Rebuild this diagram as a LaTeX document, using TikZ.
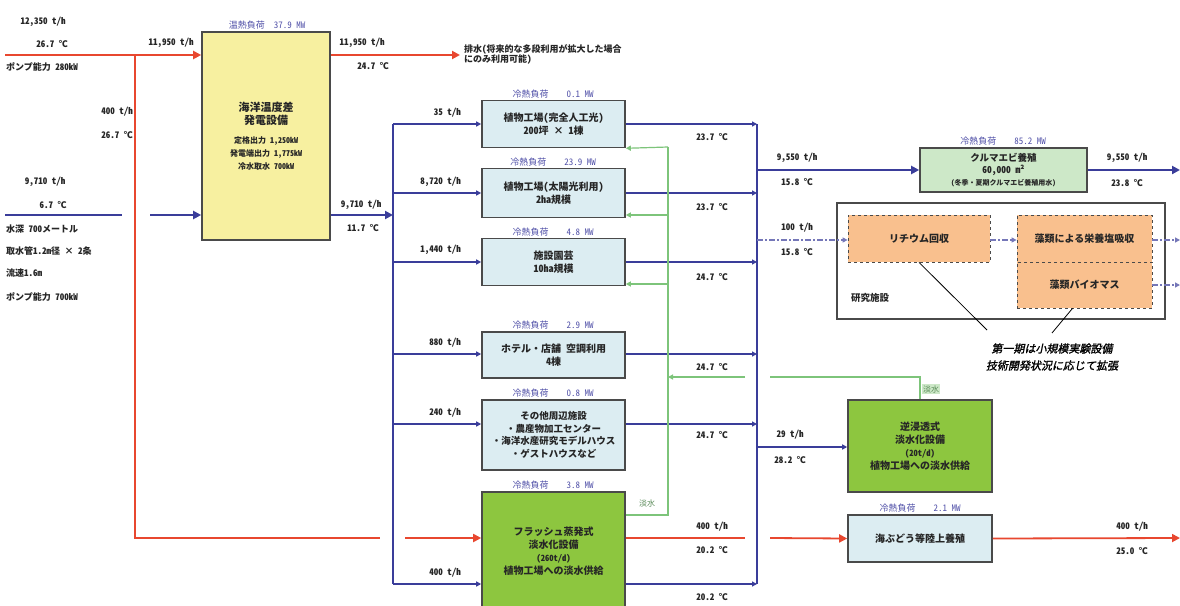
\documentclass[tikz,border=0pt]{standalone}
\usepackage{fontspec}
\setmainfont{Noto Sans CJK JP}[RawFeature=+hwid]
\newfontfamily\cjkit{Noto Sans CJK JP}[RawFeature=+hwid, FakeSlant=0.2, FakeBold=1.5]
\usetikzlibrary{arrows.meta}
\definecolor{myred}{HTML}{E8472F}
\definecolor{myblue}{HTML}{3A3D9A}
\definecolor{mygreen}{HTML}{7DC47A}
\definecolor{loadc}{HTML}{5050A8}
\definecolor{yelf}{HTML}{F7F0A0}
\definecolor{bluef}{HTML}{DCEDF2}
\definecolor{grnf}{HTML}{8DC63F}
\definecolor{lgrnf}{HTML}{CDE8C8}
\definecolor{orgf}{HTML}{F9C08E}
\definecolor{bordc}{HTML}{4A4A4A}
\tikzset{
  lbl/.style={font=\bfseries\fontsize{9}{10}\selectfont, inner sep=1pt, text=black!85},
  load/.style={font=\fontsize{9}{10}\selectfont, text=loadc, inner sep=1pt},
  boxb/.style={draw=bordc, line width=1.6pt, fill=bluef, align=center, font=\bfseries\fontsize{10}{13}\selectfont, inner sep=2pt, text=black!85},
  redthick/.style={draw=myred, line width=2.6pt},
  redthin/.style={draw=myred, line width=1.8pt},
  bluethick/.style={draw=myblue, line width=2.8pt},
  bluethin/.style={draw=myblue, line width=1.8pt},
  greenl/.style={draw=mygreen, line width=1.2pt},
  arr/.style={-{Triangle[length=8pt,width=8pt]}},
  sarr/.style={-{Triangle[length=5pt,width=5pt]}},
}
\begin{document}
\begin{tikzpicture}[x=1pt,y=-1pt]
\useasboundingbox (0,0) rectangle (1180,605);
\fill[white] (0,0) rectangle (1180,605);

% ---------- boxes ----------
\node[boxb, fill=yelf, minimum width=128, minimum height=208] (otec) at (266,136)
  {\fontsize{11}{14}\selectfont 海洋温度差\\\fontsize{11}{14}\selectfont 発電設備\\[6pt]{\fontsize{8}{10}\selectfont 定格出力 1,250kW}\\{\fontsize{8}{10}\selectfont 発電端出力 1,775kW}\\{\fontsize{8}{10}\selectfont 冷水取水 700kW}};
\node[boxb, minimum width=143, minimum height=47] (b1) at (553.5,124) {植物工場（完全人工光）\\200坪 × 1棟};
\node[boxb, minimum width=143, minimum height=49] (b2) at (553.5,193) {植物工場（太陽光利用）\\2ha規模};
\node[boxb, minimum width=143, minimum height=47] (b3) at (553.5,262) {施設園芸\\10ha規模};
\node[boxb, minimum width=143, minimum height=46] (b4) at (553.5,355) {ホテル・店舗 空調利用\\4棟};
\node[boxb, minimum width=143, minimum height=70, font=\bfseries\fontsize{9.5}{12.5}\selectfont] (b5) at (553.5,435) {その他周辺施設\\・農産物加工センター\\・海洋水産研究モデルハウス\\・ゲストハウスなど};
\node[boxb, fill=grnf, minimum width=143, minimum height=118] (b6) at (553.5,551) {フラッシュ蒸発式\\淡水化設備\\{\fontsize{8.5}{11}\selectfont (260t/d)}\\植物工場への淡水供給};
\node[boxb, fill=lgrnf, minimum width=167, minimum height=44, font=\bfseries\fontsize{9.5}{12}\selectfont] (kuruma) at (1003.5,170) {クルマエビ養殖\\60,000 m²\\{\fontsize{7}{9}\selectfont （冬季・夏期クルマエビ養殖用水）}};
\node[draw=bordc, line width=1.6pt, fill=white, minimum width=328, minimum height=116] (lab) at (1001,261) {};
\node[draw=bordc, dashed, line width=0.8pt, fill=orgf, minimum width=142, minimum height=47, font=\bfseries\fontsize{10}{12}\selectfont, text=black!85] (lith) at (919,238.5) {リチウム回収};
\node[draw=bordc, dashed, line width=0.8pt, fill=orgf, minimum width=135, minimum height=47, font=\bfseries\fontsize{10}{12}\selectfont, text=black!85] (alg1) at (1084.5,238.5) {藻類による栄養塩吸収};
\node[draw=bordc, dashed, line width=0.8pt, fill=orgf, minimum width=135, minimum height=46, font=\bfseries\fontsize{10}{12}\selectfont, text=black!85] (alg2) at (1084.5,285) {藻類バイオマス};
\node[lbl, font=\bfseries\fontsize{9.5}{11}\selectfont] (labt) at (870,298) {研究施設};
\node[boxb, fill=grnf, minimum width=144, minimum height=92] (ro) at (920,446) {逆浸透式\\淡水化設備\\{\fontsize{8.5}{11}\selectfont (20t/d)}\\植物工場への淡水供給};
\node[boxb, minimum width=144, minimum height=47] (umi) at (920,538.5) {海ぶどう等陸上養殖};

% ---------- coordinates ----------
\coordinate (redin) at (5,55);
\coordinate (redtap) at (135,55);
\coordinate (redcorner) at (135,538);
\coordinate (redgapA) at (380,538);
\coordinate (redgapB) at (405,538);
\coordinate (redout) at (460,55);
\coordinate (blueinA) at (5,215);
\coordinate (blueinB) at (122,215);
\coordinate (blueinC) at (150,215);
\coordinate (LJ) at (393,215);
\coordinate (LT) at (393,124);
\coordinate (LB) at (393,584);
\coordinate (L2) at (393,193);
\coordinate (L3) at (393,262);
\coordinate (L4) at (393,354);
\coordinate (L5) at (393,424);
\coordinate (RT) at (757,124);
\coordinate (RB) at (757,584);
\coordinate (R2) at (757,193);
\coordinate (R3) at (757,262);
\coordinate (R4) at (757,354);
\coordinate (R5) at (757,424);
\coordinate (RK) at (757,170);
\coordinate (RL) at (757,240);
\coordinate (RR) at (757,447);
\coordinate (kout) at (1180,170);
\coordinate (a1out) at (1180,240);
\coordinate (a2out) at (1180,285);
\coordinate (fgapA) at (745,538);
\coordinate (fgapB) at (770,538);
\coordinate (uout) at (1180,538);
\coordinate (G0) at (668,515);
\coordinate (GT) at (668,147);
\coordinate (G2) at (668,215);
\coordinate (G3) at (668,284);
\coordinate (G4) at (668,377);
\coordinate (GRa) at (920,377);
\coordinate (GRb) at (770,377);
\coordinate (GRc) at (745,377);

% ---------- red warm water ----------
\draw[redthick, arr] (redin) -- (otec.west |- redin);
\draw[redthick, arr] (otec.east |- redout) -- (redout);
\draw[redthin] (redtap) -- (redcorner) -- (redgapA);
\draw[redthin, arr] (redgapB) -- (b6.west |- redgapB);
\draw[redthin] (b6.east |- fgapA) -- (fgapA);
\draw[redthin, arr] (fgapB) -- (umi.west);
\draw[redthin, arr] (umi.east) -- (uout);

% ---------- blue cold water ----------
\draw[bluethick] (blueinA) -- (blueinB);
\draw[bluethick, arr] (blueinC) -- (otec.west |- blueinC);
\draw[bluethick, arr] (otec.east |- LJ) -- (LJ);
\draw[bluethick] (LT) -- (LB);
\draw[bluethin, sarr] (LT) -- (b1.west);
\draw[bluethin, sarr] (L2) -- (b2.west);
\draw[bluethin, sarr] (L3) -- (b3.west);
\draw[bluethin, sarr] (L4) -- (b4.west |- L4);
\draw[bluethin, sarr] (L5) -- (b5.west |- L5);
\draw[bluethin, sarr] (LB) -- (b6.west |- LB);
\draw[bluethin, sarr] (b1.east) -- (RT);
\draw[bluethin, sarr] (b2.east) -- (R2);
\draw[bluethin, sarr] (b3.east) -- (R3);
\draw[bluethin, sarr] (b4.east |- R4) -- (R4);
\draw[bluethin, sarr] (b5.east |- R5) -- (R5);
\draw[bluethin, sarr] (b6.east |- RB) -- (RB);
\draw[bluethick] (RT) -- (RB);
\draw[bluethick, arr] (RK) -- (kuruma.west);
\draw[bluethick, arr] (kuruma.east) -- (kout);
\draw[bluethin, sarr] (RR) -- (ro.west |- RR);
\draw[myblue!70, line width=1.4pt, dash pattern=on 6pt off 2pt on 2pt off 2pt, sarr] (RL) -- (lith.west |- RL);
\draw[myblue!70, line width=1.4pt, dash pattern=on 6pt off 2pt on 2pt off 2pt, sarr] (lith.east |- RL) -- (alg1.west |- RL);
\draw[myblue!70, line width=1.4pt, dash pattern=on 6pt off 2pt on 2pt off 2pt, sarr] (alg1.east |- a1out) -- (a1out);
\draw[myblue!70, line width=1.4pt, dash pattern=on 6pt off 2pt on 2pt off 2pt, sarr] (alg2.east |- a2out) -- (a2out);

% ---------- green fresh water ----------
\draw[greenl] (b6.east |- G0) -- (G0) -- (GT);
\draw[greenl, sarr] (GT) -- (b1.south east);
\draw[greenl, sarr] (G2) -- (b2.east |- G2);
\draw[greenl, sarr] (G3) -- (b3.east |- G3);
\draw[greenl] (ro.north -| GRa) -- (GRa) -- (GRb);
\draw[greenl, sarr] (GRc) -- (G4);
\node[lbl, text=mygreen!70!black, font=\fontsize{8}{9}\selectfont] (fw1) at (647,503) {淡水};
\node[lbl, text=mygreen!70!black, fill=lgrnf, font=\fontsize{8}{9}\selectfont] (fw2) at (931,389) {淡水};

% ---------- callout ----------
\coordinate (c1) at (987,330);
\coordinate (c2) at (1052,333);
\draw[black, line width=0.8pt] (lith.south) -- (c1);
\draw[black, line width=0.8pt] ([xshift=-12pt]alg2.south) -- (c2);
\node[align=center, font=\cjkit\fontsize{11}{17}\selectfont] (note) at (1052,357) {第一期は小規模実験設備\\技術開発状況に応じて拡張};

% ---------- load labels ----------
\node[load] (lo0) at (267,25) {温熱負荷\quad 37.9 MW};
\node[load] (lo1) at (553,94) {冷熱負荷\qquad 0.1 MW};
\node[load] (lo2) at (553,162) {冷熱負荷\qquad 23.9 MW};
\node[load] (lo3) at (553,232) {冷熱負荷\qquad 4.8 MW};
\node[load] (lo4) at (553,325) {冷熱負荷\qquad 2.9 MW};
\node[load] (lo5) at (553,393) {冷熱負荷\qquad 0.8 MW};
\node[load] (lo6) at (553,485) {冷熱負荷\qquad 3.8 MW};
\node[load] (lo7) at (1003,141) {冷熱負荷\qquad 85.2 MW};
\node[load] (lo8) at (920,508) {冷熱負荷\qquad 2.1 MW};

% ---------- flow labels ----------
\node[lbl] (t1) at (43,22) {12,350 t/h};
\node[lbl] (t2) at (52,44) {26.7 ℃};
\node[lbl, anchor=west] (t3) at (5,67) {ポンプ能力 280kW};
\node[lbl] (t4) at (171,43) {11,950 t/h};
\node[lbl] (t5) at (362,43) {11,950 t/h};
\node[lbl] (t6) at (373,66) {24.7 ℃};
\node[lbl, anchor=west, align=left] (t7) at (463,54) {排水（将来的な多段利用が拡大した場合\\にのみ利用可能）};
\node[lbl, anchor=east] (t8) at (134,112) {400 t/h};
\node[lbl, anchor=east] (t9) at (134,135) {26.7 ℃};
\node[lbl] (t10) at (45,182) {9,710 t/h};
\node[lbl] (t11) at (53,205) {6.7 ℃};
\node[lbl, anchor=west] (t12) at (5,229) {水深 700メートル};
\node[lbl, anchor=west] (t13) at (5,251) {取水管1.2m径 × 2条};
\node[lbl, anchor=west] (t14) at (5,273) {流速1.6m};
\node[lbl, anchor=west] (t15) at (5,297) {ポンプ能力 700kW};
\node[lbl] (t16) at (361,205) {9,710 t/h};
\node[lbl] (t17) at (363,228) {11.7 ℃};
\node[lbl, anchor=east] (f1) at (462,113) {35 t/h};
\node[lbl, anchor=east] (f2) at (462,182) {8,720 t/h};
\node[lbl, anchor=east] (f3) at (462,250) {1,440 t/h};
\node[lbl, anchor=east] (f4) at (462,343) {880 t/h};
\node[lbl, anchor=east] (f5) at (462,413) {240 t/h};
\node[lbl, anchor=east] (f6) at (462,573) {400 t/h};
\node[lbl] (o1) at (712,137) {23.7 ℃};
\node[lbl] (o2) at (712,207) {23.7 ℃};
\node[lbl] (o3) at (712,277) {24.7 ℃};
\node[lbl] (o4) at (712,367) {24.7 ℃};
\node[lbl] (o5) at (712,435) {24.7 ℃};
\node[lbl] (o6) at (712,527) {400 t/h};
\node[lbl] (o7) at (712,550) {20.2 ℃};
\node[lbl] (o8) at (712,597) {20.2 ℃};
\node[lbl] (k1) at (797,158) {9,550 t/h};
\node[lbl] (k2) at (797,182) {15.8 ℃};
\node[lbl] (k3) at (1127,158) {9,550 t/h};
\node[lbl] (k4) at (1127,183) {23.8 ℃};
\node[lbl] (k5) at (797,228) {100 t/h};
\node[lbl] (k6) at (797,252) {15.8 ℃};
\node[lbl] (r1) at (790,435) {29 t/h};
\node[lbl] (r2) at (790,460) {28.2 ℃};
\node[lbl] (u1) at (1132,527) {400 t/h};
\node[lbl] (u2) at (1132,551) {25.0 ℃};
\end{tikzpicture}
\end{document}
